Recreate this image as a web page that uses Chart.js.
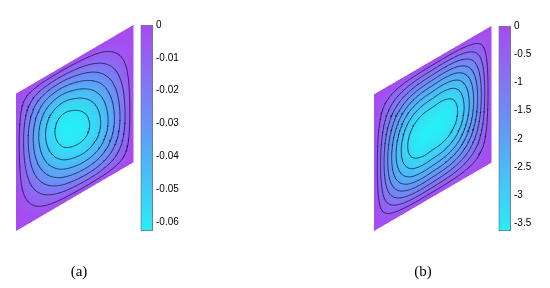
<!DOCTYPE html>
<html>
<head>
<meta charset="utf-8">
<script src="https://cdn.jsdelivr.net/npm/chart.js@4.4.1/dist/chart.umd.min.js"></script>
<style>
  html, body { margin: 0; padding: 0; background: #fff; }
  body { width: 550px; height: 288px; position: relative; overflow: hidden; }
  canvas { position: absolute; top: 0; }
  #chart-a { left: 0; }
  #chart-b { left: 360px; }
</style>
</head>
<body>
<canvas id="chart-a" width="200" height="288"></canvas>
<canvas id="chart-b" width="190" height="288"></canvas>
<script>
// Stream function on an 11 x 11 grid of the skewed cavity.
// Rows go from the bottom wall (v = 0) to the top wall (v = 1),
// columns from the left wall (u = 0) to the right wall (u = 1).
const psiA = [
    [0, 0, 0, 0, 0, 0, 0, 0, 0, 0, 0],
    [0, -0.0034, -0.0080, -0.0130, -0.0173, -0.0200, -0.0211, -0.0199, -0.0158, -0.0091, 0],
    [0, -0.0078, -0.0171, -0.0261, -0.0334, -0.0374, -0.0385, -0.0356, -0.0278, -0.0157, 0],
    [0, -0.0128, -0.0262, -0.0383, -0.0471, -0.0510, -0.0512, -0.0462, -0.0354, -0.0197, 0],
    [0, -0.0174, -0.0343, -0.0480, -0.0569, -0.0598, -0.0582, -0.0513, -0.0383, -0.0208, 0],
    [0, -0.0209, -0.0397, -0.0537, -0.0615, -0.0626, -0.0592, -0.0506, -0.0367, -0.0194, 0],
    [0, -0.0226, -0.0416, -0.0546, -0.0607, -0.0597, -0.0547, -0.0452, -0.0317, -0.0162, 0],
    [0, -0.0216, -0.0387, -0.0494, -0.0534, -0.0509, -0.0450, -0.0358, -0.0241, -0.0118, 0],
    [0, -0.0174, -0.0306, -0.0381, -0.0400, -0.0369, -0.0314, -0.0239, -0.0153, -0.0070, 0],
    [0, -0.0101, -0.0174, -0.0211, -0.0216, -0.0193, -0.0158, -0.0114, -0.0068, -0.0028, 0],
    [0, 0, 0, 0, 0, 0, 0, 0, 0, 0, 0]
];
const psiB = [
    [0, 0, 0, 0, 0, 0, 0, 0, 0, 0, 0],
    [0, -0.496, -0.870, -1.094, -1.159, -1.125, -1.069, -0.932, -0.683, -0.359, 0],
    [0, -0.911, -1.611, -2.043, -2.184, -2.142, -2.057, -1.812, -1.345, -0.716, 0],
    [0, -1.207, -2.150, -2.752, -2.969, -2.940, -2.853, -2.540, -1.907, -1.028, 0],
    [0, -1.363, -2.451, -3.166, -3.448, -3.449, -3.380, -3.042, -2.308, -1.258, 0],
    [0, -1.379, -2.505, -3.267, -3.594, -3.630, -3.594, -3.267, -2.505, -1.379, 0],
    [0, -1.258, -2.308, -3.042, -3.380, -3.449, -3.448, -3.166, -2.451, -1.363, 0],
    [0, -1.028, -1.907, -2.540, -2.853, -2.940, -2.969, -2.752, -2.150, -1.207, 0],
    [0, -0.716, -1.345, -1.812, -2.057, -2.142, -2.184, -2.043, -1.611, -0.911, 0],
    [0, -0.359, -0.683, -0.932, -1.069, -1.125, -1.159, -1.094, -0.870, -0.496, 0],
    [0, 0, 0, 0, 0, 0, 0, 0, 0, 0, 0]
];

const levelsA = [-0.0063, -0.0149, -0.0234, -0.032, -0.0406, -0.0492, -0.0578];
const levelsB = [-0.4, -0.8, -1.2, -1.6, -2.0, -2.4, -2.8, -3.2];

const cbTicksA = [0, -0.01, -0.02, -0.03, -0.04, -0.05, -0.06];
const cbTicksB = [0, -0.5, -1, -1.5, -2, -2.5, -3, -3.5];
const cbMinA = -0.0627;
const cbMinB = -3.63;

const panelLabels = ['(a)', '(b)'];

// cavity is a rhombus leaning 30 degrees
const SKEW = Math.PI / 6;
const CX = Math.cos(SKEW);
const SY = Math.sin(SKEW);
const FINE = 96;

// colour map: 0 = minimum (cyan) ... 1 = zero (violet)
const cmap = [
    [0, [40, 238, 246]],
    [0.5, [100, 152, 246]],
    [1, [168, 74, 240]]
];

function colorAt(t) {
    t = Math.max(0, Math.min(1, t));
    for (let k = 1; k < cmap.length; k++) {
        const [t1, c1] = cmap[k];
        const [t0, c0] = cmap[k - 1];
        if (t <= t1) {
            const s = (t - t0) / (t1 - t0);
            return c0.map((c, n) => Math.round(c + (c1[n] - c) * s));
        }
    }
    return cmap[cmap.length - 1][1];
}

// walls have psi = 0, so mirror with a sign change outside the grid
function gridValue(g, i, j) {
    const n = g.length - 1;
    let s = 1;
    if (i < 0) { i = -i; s = -s; } else if (i > n) { i = 2 * n - i; s = -s; }
    if (j < 0) { j = -j; s = -s; } else if (j > n) { j = 2 * n - j; s = -s; }
    return s * g[j][i];
}

function cr(p0, p1, p2, p3, t) {
    return 0.5 * (2 * p1 + (p2 - p0) * t + (2 * p0 - 5 * p1 + 4 * p2 - p3) * t * t + (3 * p1 - p0 - 3 * p2 + p3) * t * t * t);
}

function sampleField(g, u, v) {
    const n = g.length - 1;
    const fu = Math.min(Math.max(u * n, 0), n);
    const fv = Math.min(Math.max(v * n, 0), n);
    const i = Math.min(Math.floor(fu), n - 1);
    const j = Math.min(Math.floor(fv), n - 1);
    const tu = fu - i, tv = fv - j;
    const col = [];
    for (let k = -1; k <= 2; k++) {
        col.push(cr(gridValue(g, i - 1, j + k), gridValue(g, i, j + k),
            gridValue(g, i + 1, j + k), gridValue(g, i + 2, j + k), tu));
    }
    return cr(col[0], col[1], col[2], col[3], tv);
}

function toXY(u, v) {
    return { x: u * CX, y: v + u * SY };
}

function contourData(g, levels) {
    const f = [];
    for (let b = 0; b <= FINE; b++) {
        const row = [];
        for (let a = 0; a <= FINE; a++) row.push(sampleField(g, a / FINE, b / FINE));
        f.push(row);
    }
    const out = [];
    levels.forEach(level => {
        const cut = (a0, b0, va, a1, b1, vb) => {
            const t = (level - va) / (vb - va);
            return toXY((a0 + (a1 - a0) * t) / FINE, (b0 + (b1 - b0) * t) / FINE);
        };
        for (let b = 0; b < FINE; b++) {
            for (let a = 0; a < FINE; a++) {
                const v00 = f[b][a], v10 = f[b][a + 1], v11 = f[b + 1][a + 1], v01 = f[b + 1][a];
                const edges = [
                    [a, b, v00, a + 1, b, v10],
                    [a + 1, b, v10, a + 1, b + 1, v11],
                    [a + 1, b + 1, v11, a, b + 1, v01],
                    [a, b + 1, v01, a, b, v00]
                ];
                const pts = [];
                edges.forEach(e => {
                    if ((e[2] < level) !== (e[5] < level)) pts.push(cut(...e));
                });
                for (let p = 0; p + 1 < pts.length; p += 2) {
                    out.push(pts[p], pts[p + 1], { x: null, y: null });
                }
            }
        }
    });
    return out;
}

// paints the shaded field cell by cell through the x / y scales
const fieldPlugin = {
    id: 'field',
    beforeDatasetsDraw(chart, args, opts) {
        const { ctx, chartArea, scales: { x, y } } = chart;
        const left = Math.floor(chartArea.left), top = Math.floor(chartArea.top);
        const w = Math.ceil(chartArea.right) - left, h = Math.ceil(chartArea.bottom) - top;
        const img = ctx.createImageData(w, h);
        const toUV = (px, py) => {
            const X = x.getValueForPixel(px), Y = y.getValueForPixel(py);
            const u = X / CX;
            return [u, Y - u * SY];
        };
        const inDomain = ([u, v]) => u >= 0 && u <= 1 && v >= 0 && v <= 1;
        for (let py = 0; py < h; py++) {
            for (let px = 0; px < w; px++) {
                let cover = 0;
                for (const sx of [0.25, 0.75]) {
                    for (const sy of [0.25, 0.75]) {
                        if (inDomain(toUV(left + px + sx, top + py + sy))) cover++;
                    }
                }
                if (!cover) continue;
                const [u, v] = toUV(left + px + 0.5, top + py + 0.5);
                const val = sampleField(opts.grid, Math.max(0, Math.min(1, u)), Math.max(0, Math.min(1, v)));
                const c = colorAt((val - opts.vmin) / (0 - opts.vmin));
                const k = (py * w + px) * 4;
                img.data[k] = c[0];
                img.data[k + 1] = c[1];
                img.data[k + 2] = c[2];
                img.data[k + 3] = Math.round(255 * cover / 4);
            }
        }
        const tmp = document.createElement('canvas');
        tmp.width = w;
        tmp.height = h;
        tmp.getContext('2d').putImageData(img, 0, 0);
        ctx.drawImage(tmp, left, top);
    }
};

function makePanel(id, cfg) {
    const xMax = 137 / 135.5;
    return new Chart(document.getElementById(id), {
        type: 'scatter',
        data: {
            datasets: [{
                type: 'scatter',
                data: contourData(cfg.grid, cfg.levels),
                showLine: true,
                pointRadius: 0,
                borderColor: 'rgba(12, 18, 52, 0.72)',
                borderWidth: 1,
                xAxisID: 'x',
                yAxisID: 'y'
            }, {
                type: 'bar',
                data: [{ x: 0.965, y: [cfg.vmin, 0] }],
                barThickness: 12,
                backgroundColor: (c) => {
                    const ch = c.chart, s = ch.scales.cb;
                    if (!s || !ch.chartArea) return 'rgb(100,152,246)';
                    const grad = ch.ctx.createLinearGradient(0, s.getPixelForValue(cfg.vmin), 0, s.getPixelForValue(0));
                    cmap.forEach(([t, rgb]) => grad.addColorStop(t, `rgb(${rgb.join(',')})`));
                    return grad;
                },
                borderColor: '#6c7696',
                borderWidth: 1,
                borderSkipped: false,
                xAxisID: 'x',
                yAxisID: 'cb'
            }]
        },
        options: {
            responsive: false,
            animation: false,
            events: [],
            layout: { padding: cfg.padding },
            plugins: {
                legend: { display: false },
                tooltip: { enabled: false },
                field: { grid: cfg.grid, vmin: cfg.vmin }
            },
            scales: {
                x: {
                    type: 'linear',
                    min: 0,
                    max: xMax,
                    offset: false,
                    grid: { display: false, drawTicks: false, offset: false },
                    border: { display: false },
                    afterBuildTicks: s => { s.ticks = [{ value: cfg.labelX }]; },
                    afterFit: s => { s.height = 57; },
                    ticks: {
                        padding: 32,
                        color: '#000',
                        font: { family: '"Liberation Serif", "DejaVu Serif", serif', size: 15 },
                        callback: () => cfg.label
                    }
                },
                y: { type: 'linear', min: 0, max: 1 + SY, display: false },
                cb: {
                    type: 'linear',
                    position: 'right',
                    min: cfg.vmin,
                    max: 0,
                    grid: { display: false, drawTicks: false },
                    border: { display: false },
                    afterBuildTicks: s => { s.ticks = cfg.ticks.map(v => ({ value: v })); },
                    afterFit: s => { s.width = cfg.axisWidth; },
                    ticks: {
                        padding: 3,
                        color: '#000',
                        font: { family: '"Liberation Sans", Arial, sans-serif', size: 10 },
                        callback: v => String(v)
                    }
                }
            }
        },
        plugins: [fieldPlugin]
    });
}

makePanel('chart-a', {
    grid: psiA, levels: levelsA, vmin: cbMinA, ticks: cbTicksA,
    label: panelLabels[0], labelX: 0.465, axisWidth: 40,
    padding: { left: 16, right: 7, top: 25, bottom: 0 }
});
makePanel('chart-b', {
    grid: psiB, levels: levelsB, vmin: cbMinB, ticks: cbTicksB,
    label: panelLabels[1], labelX: 0.362, axisWidth: 36,
    padding: { left: 14, right: 3, top: 26, bottom: 0 }
});
</script>
</body>
</html>
